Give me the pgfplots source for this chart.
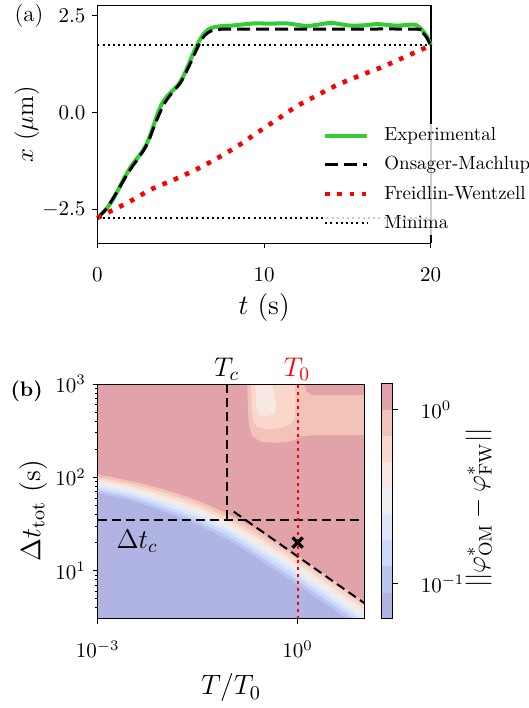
\RequirePackage{fix-cm}
\documentclass[border=0pt]{standalone}
\usepackage{pgfplots}
\pgfplotsset{compat=1.18}
\usepackage{pgfplotstable}

\definecolor{cA}{HTML}{E2A2AA}
\definecolor{cB}{HTML}{F2C3B8}
\definecolor{cC}{HTML}{F9D7CA}
\definecolor{cD}{HTML}{F8E8E2}
\definecolor{cE}{HTML}{EDEEF0}
\definecolor{cF}{HTML}{DEE6F9}
\definecolor{cG}{HTML}{CCD9FA}
\definecolor{cH}{HTML}{BBC5F1}
\definecolor{cI}{HTML}{AFB4E3}
\definecolor{expgreen}{HTML}{33CC33}

% panel (a): experimental trajectory
\pgfplotstableread{
t x
0 -2.72
0.4 -2.55
0.8 -2.33
1.2 -2.03
1.6 -1.70
2.0 -1.40
2.4 -1.17
2.75 -0.97
3.05 -0.71
3.35 -0.36
3.65 0.02
3.95 0.29
4.25 0.45
4.55 0.58
4.85 0.72
5.15 0.93
5.45 1.22
5.75 1.53
6.05 1.80
6.35 2.01
6.65 2.14
7.0 2.20
7.5 2.23
8.0 2.24
8.7 2.27
9.5 2.30
10.3 2.29
11.3 2.30
12.0 2.26
12.6 2.23
13.3 2.27
14.0 2.31
14.7 2.27
15.2 2.24
16.0 2.25
16.8 2.28
17.4 2.26
18.0 2.24
18.6 2.26
19.1 2.26
19.45 2.14
19.75 1.98
20.0 1.74
}\expdata

% Onsager-Machlup path
\pgfplotstableread{
t x
0 -2.72
0.5 -2.50
1.0 -2.17
1.5 -1.80
2.0 -1.45
2.5 -1.15
3.0 -0.80
3.5 -0.25
4.0 0.22
4.5 0.52
5.0 0.78
5.5 1.20
6.0 1.67
6.4 1.97
6.8 2.10
7.3 2.14
8.0 2.15
13.0 2.15
19.0 2.15
19.4 2.09
19.7 1.97
20.0 1.74
}\omdata

% Freidlin-Wentzell path
\pgfplotstableread{
t x
0 -2.72
1.0 -2.50
1.93 -2.30
3.24 -1.98
4.56 -1.74
5.88 -1.48
7.19 -1.18
8.51 -0.84
9.52 -0.54
10.74 -0.19
11.96 0.16
13.17 0.44
14.39 0.71
15.80 0.96
17.12 1.18
18.44 1.43
20.0 1.73
}\fwdata

% panel (b): contour level boundaries, log10(T/T0) vs log10(Delta t_tot)
\pgfplotstableread{
lx c1 c2 c3 c4 c5 c6 c7 c8
-3.0 2.030 2.001 1.973 1.944 1.916 1.887 1.859 1.830
-2.5 1.960 1.930 1.900 1.870 1.840 1.810 1.780 1.750
-2.0 1.870 1.836 1.801 1.767 1.733 1.699 1.664 1.630
-1.5 1.750 1.713 1.676 1.639 1.601 1.564 1.527 1.490
-1.0 1.590 1.550 1.510 1.470 1.430 1.390 1.350 1.310
-0.5 1.390 1.346 1.301 1.257 1.213 1.169 1.124 1.080
0.0 1.160 1.116 1.071 1.027 0.983 0.939 0.894 0.850
0.5 0.920 0.874 0.829 0.783 0.737 0.691 0.646 0.600
1.0 0.670 0.626 0.581 0.537 0.493 0.449 0.404 0.360
}\bands

\begin{document}
\begin{tikzpicture}
\useasboundingbox (0,0) rectangle (264.5pt,354pt);
\pgfplotsset{
  every axis/.append style={
    scale only axis,
    tick align=outside,
    tick pos=left,
    axis line style={line width=0.5pt},
    every tick/.style={black,line width=0.5pt},
    major tick length=2.5pt,
    minor tick length=1.5pt,
    tick label style={font=\fontsize{10.5}{12}\selectfont},
  }
}

% ---------------- panel (a) ----------------
\begin{axis}[
  at={(48.75pt,232.25pt)}, anchor=south west,
  width=166.6pt, height=119pt,
  xmin=0, xmax=20, ymin=-3.38, ymax=2.76,
  clip=false,
  xtick={0,10,20}, ytick={-2.5,0,2.5},
  yticklabel style={/pgf/number format/.cd,fixed,fixed zerofill,precision=1},
  xticklabel style={yshift=-6pt},
  xlabel={$t$ (s)}, ylabel={$x$ ($\mu$m)},
  xlabel style={at={(axis description cs:0.5,-0.27)}, anchor=center, font=\fontsize{14}{16}\selectfont},
  ylabel style={at={(axis description cs:-0.2116,0.5)}, anchor=center, font=\fontsize{12.5}{14}\selectfont},
  legend style={at={(rel axis cs:0.675,0.505)}, anchor=north west, draw=none, fill=white,
    fill opacity=0.8, text opacity=1, font=\fontsize{9.5}{11}\selectfont,
    inner sep=0pt, row sep=2.6pt, column sep=6pt,
    nodes={inner sep=1.5pt, text height=7pt, text depth=2pt}},
  legend cell align=left,
  legend image code/.code={\draw[#1] (0pt,0pt) -- (21pt,0pt);},
]
\addplot[forget plot, black, line width=1pt] coordinates {(20,-3.38) (20,2.76)};
\addplot[expgreen, line width=2pt, smooth] table[x=t,y=x] {\expdata};
\addlegendentry{Experimental}
\addplot[black, line width=1.5pt, dash pattern=on 6.5pt off 3pt, smooth] table[x=t,y=x] {\omdata};
\addlegendentry{Onsager-Machlup}
\addplot[red, line width=2.3pt, dash pattern=on 2.3pt off 3.8pt, smooth] table[x=t,y=x] {\fwdata};
\addlegendentry{Freidlin-Wentzell}
\addplot[black, line width=1pt, dash pattern=on 1pt off 1.6pt] coordinates {(0,1.73) (20,1.73)};
\addlegendentry{Minima}
\addplot[forget plot, black, line width=1pt, dash pattern=on 1pt off 1.6pt] coordinates {(0,-2.72) (20,-2.72)};
\end{axis}

% ---------------- panel (b) ----------------
\begin{axis}[
  at={(48.85pt,44.75pt)}, anchor=south west,
  width=133.3pt, height=117.25pt,
  xmin=-3, xmax=1, ymin=0.488, ymax=3,
  axis on top,
  xtick={-3,0}, xticklabels={$10^{-3}$,$10^{0}$},
  ytick={1,2,3}, yticklabels={$10^{1}$,$10^{2}$,$10^{3}$},
  minor ytick={0.602,0.699,0.778,0.845,0.903,0.954,1.301,1.477,1.602,1.699,1.778,1.845,1.903,1.954,2.301,2.477,2.602,2.699,2.778,2.845,2.903,2.954},
  xticklabel style={yshift=-5pt},
  xlabel={$T/T_0$}, ylabel={$\Delta t_{\mathrm{tot}}$ (s)},
  xlabel style={at={(axis description cs:0.5,-0.296)}, anchor=center, font=\fontsize{14}{16}\selectfont},
  ylabel style={at={(axis description cs:-0.2416,0.46)}, anchor=center, font=\fontsize{14}{16}\selectfont},
]
\addplot[fill=cA, draw=none] coordinates {(-3,0.4) (1,0.4) (1,3.1) (-3,3.1)} --cycle;
% light region near the top
\addplot[fill=cB, draw=none] coordinates {(-0.76,3.05) (-0.745,2.75) (-0.73,2.55) (-0.68,2.44) (-0.55,2.38) (-0.3,2.37) (-0.08,2.39) (0.05,2.44) (0.3,2.455) (1.05,2.455) (1.05,2.88) (0.2,2.885) (0.13,2.92) (0.09,3.05)} --cycle;
\addplot[fill=cC, draw=none] coordinates {(-0.70,3.05) (-0.69,2.75) (-0.66,2.6) (-0.6,2.54) (-0.45,2.51) (-0.25,2.53) (-0.1,2.57) (-0.04,2.65) (-0.03,2.85) (-0.05,3.05)} --cycle;
\addplot[fill=cD, draw=none] coordinates {(-0.63,3.05) (-0.62,2.76) (-0.58,2.67) (-0.46,2.655) (-0.34,2.69) (-0.32,2.78) (-0.36,2.9) (-0.40,3.05)} --cycle;
% transition bands
\addplot[fill=cB, draw=none, smooth] table[x=lx,y=c1] {\bands} \closedcycle;
\addplot[fill=cC, draw=none, smooth] table[x=lx,y=c2] {\bands} \closedcycle;
\addplot[fill=cD, draw=none, smooth] table[x=lx,y=c3] {\bands} \closedcycle;
\addplot[fill=cE, draw=none, smooth] table[x=lx,y=c4] {\bands} \closedcycle;
\addplot[fill=cF, draw=none, smooth] table[x=lx,y=c5] {\bands} \closedcycle;
\addplot[fill=cG, draw=none, smooth] table[x=lx,y=c6] {\bands} \closedcycle;
\addplot[fill=cH, draw=none, smooth] table[x=lx,y=c7] {\bands} \closedcycle;
\addplot[fill=cI, draw=none, smooth] table[x=lx,y=c8] {\bands} \closedcycle;
% guide lines
\addplot[black, line width=1pt, dash pattern=on 4.5pt off 2.5pt] coordinates {(-1.06,3) (-1.06,1.54)};
\addplot[black, line width=1pt, dash pattern=on 4.5pt off 2.5pt] coordinates {(-3,1.54) (1,1.54)};
\addplot[black, line width=1pt, dash pattern=on 4.5pt off 2.5pt] coordinates {(-0.958,1.632) (1,0.653)};
\addplot[red, line width=1.1pt, dash pattern=on 1.1pt off 2.4pt] coordinates {(0,0.488) (0,3)};
\addplot[black, only marks, mark=x, mark size=3.6pt, mark options={line width=1.6pt}] coordinates {(0,1.301)};
\node[font=\fontsize{13.5}{15}\selectfont] at (axis cs:-2.408,1.313) {$\Delta t_c$};
\end{axis}

% ---------------- colorbar ----------------
\begin{axis}[
  at={(190.5pt,44.65pt)}, anchor=south west,
  width=5.85pt, height=117.5pt,
  xmin=0, xmax=1, ymin=-1.2, ymax=0.15,
  axis on top,
  xtick=\empty, ytick={-1,0}, yticklabels={$10^{-1}$,$10^{0}$},
  ytick pos=right, yticklabel pos=right,
  yticklabel style={xshift=8pt},
  ylabel={$||\varphi^*_{\mathrm{OM}} - \varphi^*_{\mathrm{FW}}||$},
  ylabel style={at={(axis description cs:8.35,0.47)}, anchor=center, font=\fontsize{13}{15}\selectfont},
]
\addplot[fill=cA, draw=none] coordinates {(0,0) (1,0) (1,0.15) (0,0.15)} --cycle;
\addplot[fill=cB, draw=none] coordinates {(0,-0.15) (1,-0.15) (1,0) (0,0)} --cycle;
\addplot[fill=cC, draw=none] coordinates {(0,-0.3) (1,-0.3) (1,-0.15) (0,-0.15)} --cycle;
\addplot[fill=cD, draw=none] coordinates {(0,-0.45) (1,-0.45) (1,-0.3) (0,-0.3)} --cycle;
\addplot[fill=cE, draw=none] coordinates {(0,-0.6) (1,-0.6) (1,-0.45) (0,-0.45)} --cycle;
\addplot[fill=cF, draw=none] coordinates {(0,-0.75) (1,-0.75) (1,-0.6) (0,-0.6)} --cycle;
\addplot[fill=cG, draw=none] coordinates {(0,-0.9) (1,-0.9) (1,-0.75) (0,-0.75)} --cycle;
\addplot[fill=cH, draw=none] coordinates {(0,-1.05) (1,-1.05) (1,-0.9) (0,-0.9)} --cycle;
\addplot[fill=cI, draw=none] coordinates {(0,-1.2) (1,-1.2) (1,-1.05) (0,-1.05)} --cycle;
\end{axis}

% panel letters and line labels
\node[font=\fontsize{11.5}{13}\selectfont] at (14.5pt,346pt) {(a)};
\node[font=\bfseries\fontsize{10.5}{12}\selectfont] at (13.35pt,158.15pt) {(b)};
\node[anchor=base, font=\fontsize{13.5}{15}\selectfont] at (113.25pt,165.65pt) {$T_c$};
\node[anchor=base, red, font=\fontsize{13.5}{15}\selectfont] at (148.5pt,165.65pt) {$T_0$};
\end{tikzpicture}
\end{document}
